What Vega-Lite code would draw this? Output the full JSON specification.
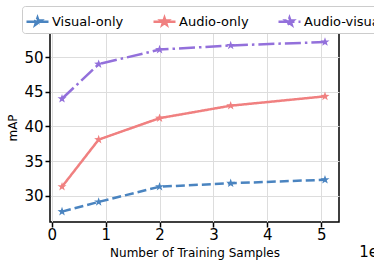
{
  "$schema": "https://vega.github.io/schema/vega-lite/v6.json",
  "width": 289,
  "height": 189,
  "autosize": {"type": "none"},
  "padding": {"left": 50, "top": 33, "right": 35, "bottom": 47},
  "background": "white",
  "title": {
    "text": "1e5",
    "orient": "bottom",
    "anchor": "end",
    "font": "DejaVu Sans",
    "fontSize": 15,
    "fontWeight": "normal",
    "color": "black",
    "offset": -13
  },
  "config": {
    "font": "DejaVu Sans",
    "view": {"stroke": "black", "strokeWidth": 1.5},
    "axis": {
      "domain": false,
      "gridColor": "#dddddd",
      "gridWidth": 1,
      "tickColor": "black",
      "tickWidth": 1.5,
      "tickSize": 5,
      "labelFont": "DejaVu Sans",
      "labelFontSize": 15,
      "labelColor": "black",
      "titleFont": "DejaVu Sans",
      "titleFontSize": 12,
      "titleFontWeight": "normal",
      "titleColor": "black"
    }
  },
  "data": {
    "values": [
      {"series": "Visual-only", "samples_1e5": 0.19, "mAP": 27.7},
      {"series": "Visual-only", "samples_1e5": 0.87, "mAP": 29.1},
      {"series": "Visual-only", "samples_1e5": 2.0, "mAP": 31.3},
      {"series": "Visual-only", "samples_1e5": 3.32, "mAP": 31.8},
      {"series": "Visual-only", "samples_1e5": 5.07, "mAP": 32.3},
      {"series": "Audio-only", "samples_1e5": 0.19, "mAP": 31.3},
      {"series": "Audio-only", "samples_1e5": 0.87, "mAP": 38.1},
      {"series": "Audio-only", "samples_1e5": 2.0, "mAP": 41.2},
      {"series": "Audio-only", "samples_1e5": 3.32, "mAP": 43.0},
      {"series": "Audio-only", "samples_1e5": 5.07, "mAP": 44.35},
      {"series": "Audio-visual", "samples_1e5": 0.19, "mAP": 44.0},
      {"series": "Audio-visual", "samples_1e5": 0.87, "mAP": 49.0},
      {"series": "Audio-visual", "samples_1e5": 2.0, "mAP": 51.1},
      {"series": "Audio-visual", "samples_1e5": 3.32, "mAP": 51.7},
      {"series": "Audio-visual", "samples_1e5": 5.07, "mAP": 52.2}
    ]
  },
  "mark": {
    "type": "line",
    "strokeWidth": 2.5,
    "point": {
      "shape": "M0,-1L0.235,-0.324L0.951,-0.309L0.38,0.124L0.588,0.809L0,0.4L-0.588,0.809L-0.38,0.124L-0.951,-0.309L-0.235,-0.324Z",
      "filled": true,
      "size": 90
    }
  },
  "encoding": {
    "x": {
      "field": "samples_1e5",
      "type": "quantitative",
      "scale": {"domain": [-0.033, 5.33], "nice": false, "zero": false},
      "axis": {
        "values": [0, 1, 2, 3, 4, 5],
        "format": "d",
        "title": "Number of Training Samples",
        "labelPadding": 0,
        "titlePadding": 5
      }
    },
    "y": {
      "field": "mAP",
      "type": "quantitative",
      "scale": {"domain": [26.2, 53.5], "nice": false, "zero": false},
      "axis": {
        "values": [30, 35, 40, 45, 50],
        "title": "mAP",
        "labelPadding": 2,
        "titlePadding": 4
      }
    },
    "color": {
      "field": "series",
      "type": "nominal",
      "scale": {
        "domain": ["Visual-only", "Audio-only", "Audio-visual"],
        "range": ["#4a84c0", "#f08080", "#9370db"]
      },
      "legend": {
        "title": null,
        "orient": "none",
        "direction": "horizontal",
        "legendX": -28,
        "legendY": -27,
        "padding": 3,
        "strokeColor": "#cccccc",
        "fillColor": "white",
        "cornerRadius": 3,
        "columnPadding": 24,
        "labelFont": "DejaVu Sans",
        "labelFontSize": 13,
        "labelColor": "black",
        "labelOffset": 2,
        "symbolType": "M-1,0L1,0M0,-0.35L0.082,-0.113L0.333,-0.108L0.133,0.043L0.206,0.283L0,0.14L-0.206,0.283L-0.133,0.043L-0.333,-0.108L-0.082,-0.113Z",
        "symbolSize": 484,
        "symbolStrokeWidth": 2.5
      }
    },
    "strokeDash": {
      "field": "series",
      "type": "nominal",
      "scale": {
        "domain": ["Visual-only", "Audio-only", "Audio-visual"],
        "range": [[9, 4], [1, 0], [16, 4, 2.5, 4]]
      },
      "legend": null
    }
  }
}
